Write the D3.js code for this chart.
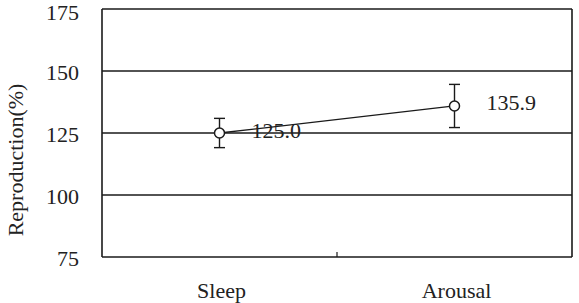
<!DOCTYPE html>
<html><head><meta charset="utf-8">
<script src="https://cdn.jsdelivr.net/npm/d3@7"></script>
<style>body{margin:0;background:#fff}svg{display:block}</style>
</head><body><svg id="c" width="579" height="303"></svg>
<script>
const categories = ["Sleep", "Arousal"];
const values = [125.0, 135.9];
const errors = [5.9, 8.7];
const valueLabels = ["125.0", "135.9"];
const yTicks = [75, 100, 125, 150, 175];

const svg = d3.select("#c");
const L = 102, R = 572, T = 9, B = 257;
const x = d3.scaleBand().domain(categories).range([L, R]).padding(0);
const y = d3.scaleLinear().domain([75, 175]).range([B, T]);
const cx = d => x(d) + x.bandwidth() / 2;
const fs = 22, ink = "#1a1a1a", txt = "#222", ff = "'Liberation Serif', 'Times New Roman', Tinos, serif";

function styleText(sel) {
  return sel.style("font-family", ff).attr("font-family", "Liberation Serif")
    .attr("font-size", fs).attr("fill", txt);
}

// gridlines
svg.append("g").selectAll("line").data(yTicks.slice(1)).join("line")
  .attr("x1", L).attr("x2", R).attr("y1", d => y(d)).attr("y2", d => y(d))
  .attr("stroke", ink).attr("stroke-width", 1.6);
// frame
svg.append("line").attr("x1", R).attr("x2", R).attr("y1", T).attr("y2", B).attr("stroke", ink).attr("stroke-width", 1.6);
svg.append("line").attr("x1", L).attr("x2", L).attr("y1", T).attr("y2", B).attr("stroke", ink).attr("stroke-width", 1.6);
svg.append("line").attr("x1", L).attr("x2", R).attr("y1", B).attr("y2", B).attr("stroke", ink).attr("stroke-width", 1.6);

// category tick marks between bands
svg.append("g").selectAll("line").data(categories.slice(1)).join("line")
  .attr("x1", d => x(d)).attr("x2", d => x(d)).attr("y1", B).attr("y2", B - 5)
  .attr("stroke", ink).attr("stroke-width", 1.2);

// y tick labels (top label nudged so it stays inside the picture)
styleText(svg.append("g").selectAll("text").data(yTicks).join("text"))
  .attr("x", 79).attr("y", d => Math.max(y(d), 11)).attr("dy", "0.4em").attr("text-anchor", "end")
  .text(d => d);

// category labels
styleText(svg.append("g").selectAll("text").data(categories).join("text"))
  .attr("x", d => cx(d) + 2).attr("y", 298).attr("text-anchor", "middle")
  .text(d => d);

// y title
styleText(svg.append("text")).attr("transform", "translate(23,160) rotate(-90)")
  .attr("text-anchor", "middle").text("Reproduction(%)");

// line
svg.append("path").datum(categories)
  .attr("d", d3.line().x(d => cx(d)).y((d, i) => y(values[i])))
  .attr("fill", "none").attr("stroke", ink).attr("stroke-width", 1.3);

// error bars
const eb = svg.append("g").attr("stroke", ink).attr("stroke-width", 1.4);
categories.forEach((c, i) => {
  const x0 = cx(c), hi = y(values[i] + errors[i]), lo = y(values[i] - errors[i]);
  eb.append("line").attr("x1", x0).attr("x2", x0).attr("y1", hi).attr("y2", lo);
  eb.append("line").attr("x1", x0 - 5.5).attr("x2", x0 + 5.5).attr("y1", hi).attr("y2", hi);
  eb.append("line").attr("x1", x0 - 5.5).attr("x2", x0 + 5.5).attr("y1", lo).attr("y2", lo);
});

// markers
svg.append("g").selectAll("circle").data(categories).join("circle")
  .attr("cx", d => cx(d)).attr("cy", (d, i) => y(values[i])).attr("r", 5)
  .attr("fill", "#fff").attr("stroke", ink).attr("stroke-width", 1.5);

// value labels
styleText(svg.append("g").selectAll("text").data(categories).join("text"))
  .attr("x", d => cx(d) + 32).attr("y", (d, i) => y(values[i]) + 4.5)
  .text((d, i) => valueLabels[i]);
</script></body></html>
